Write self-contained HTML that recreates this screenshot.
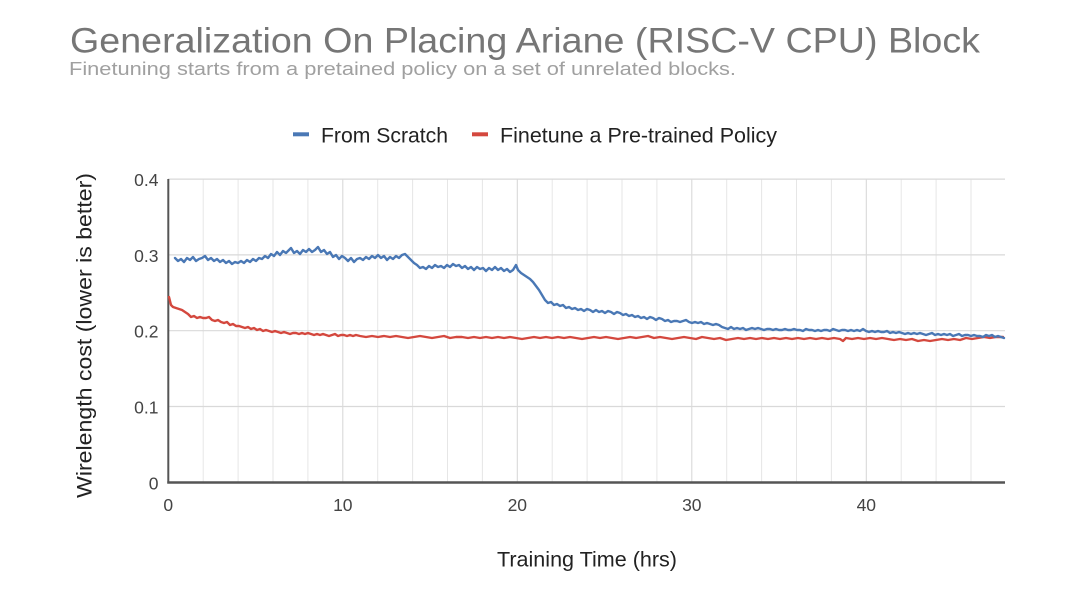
<!DOCTYPE html>
<html>
<head>
<meta charset="utf-8">
<style>
  html,body{margin:0;padding:0;background:#fff;}
  svg{display:block;}
  text{font-family:"Liberation Sans",Arial,sans-serif;}
</style>
</head>
<body>
<svg width="1080" height="604" viewBox="0 0 1080 604" xmlns="http://www.w3.org/2000/svg">
  <rect x="0" y="0" width="1080" height="604" fill="#ffffff"/>

  <!-- Title -->
  <text x="70" y="52.5" font-size="35.5" fill="#767676" textLength="910" lengthAdjust="spacingAndGlyphs">Generalization On Placing Ariane (RISC-V CPU) Block</text>
  <text x="69" y="75" font-size="18.5" fill="#a0a0a0" textLength="667" lengthAdjust="spacingAndGlyphs">Finetuning starts from a pretained policy on a set of unrelated blocks.</text>

  <!-- Legend -->
  <line x1="293" y1="134.3" x2="309" y2="134.3" stroke="#4a78b5" stroke-width="4"/>
  <text x="321" y="142.3" font-size="21" fill="#222" textLength="127" lengthAdjust="spacingAndGlyphs">From Scratch</text>
  <line x1="472" y1="134.3" x2="488" y2="134.3" stroke="#d4483e" stroke-width="4"/>
  <text x="500" y="142.3" font-size="21" fill="#222" textLength="277" lengthAdjust="spacingAndGlyphs">Finetune a Pre-trained Policy</text>

  <!-- Vertical grid (every 2 hrs) -->
  <g stroke="#e6e6e6" stroke-width="1">
    <line x1="203.2" y1="179" x2="203.2" y2="482"/>
    <line x1="238.1" y1="179" x2="238.1" y2="482"/>
    <line x1="273.0" y1="179" x2="273.0" y2="482"/>
    <line x1="307.9" y1="179" x2="307.9" y2="482"/>
    <line x1="377.7" y1="179" x2="377.7" y2="482"/>
    <line x1="412.6" y1="179" x2="412.6" y2="482"/>
    <line x1="447.5" y1="179" x2="447.5" y2="482"/>
    <line x1="482.4" y1="179" x2="482.4" y2="482"/>
    <line x1="552.2" y1="179" x2="552.2" y2="482"/>
    <line x1="587.1" y1="179" x2="587.1" y2="482"/>
    <line x1="622.0" y1="179" x2="622.0" y2="482"/>
    <line x1="656.9" y1="179" x2="656.9" y2="482"/>
    <line x1="726.7" y1="179" x2="726.7" y2="482"/>
    <line x1="761.6" y1="179" x2="761.6" y2="482"/>
    <line x1="796.5" y1="179" x2="796.5" y2="482"/>
    <line x1="831.4" y1="179" x2="831.4" y2="482"/>
    <line x1="901.2" y1="179" x2="901.2" y2="482"/>
    <line x1="936.1" y1="179" x2="936.1" y2="482"/>
    <line x1="971.0" y1="179" x2="971.0" y2="482"/>
  </g>
  <g stroke="#d6d6d6" stroke-width="1">
    <line x1="342.8" y1="179" x2="342.8" y2="482"/>
    <line x1="517.3" y1="179" x2="517.3" y2="482"/>
    <line x1="691.8" y1="179" x2="691.8" y2="482"/>
    <line x1="866.3" y1="179" x2="866.3" y2="482"/>
  </g>

  <!-- Horizontal grid -->
  <g stroke="#d9d9d9" stroke-width="1.2">
    <line x1="168" y1="179.1" x2="1005" y2="179.1"/>
    <line x1="168" y1="254.9" x2="1005" y2="254.9"/>
    <line x1="168" y1="330.7" x2="1005" y2="330.7"/>
    <line x1="168" y1="406.5" x2="1005" y2="406.5"/>
  </g>

  <!-- Axes -->
  <line x1="168.3" y1="179" x2="168.3" y2="483.5" stroke="#555" stroke-width="2"/>
  <line x1="167.3" y1="482.5" x2="1005" y2="482.5" stroke="#555" stroke-width="2.5"/>

  <!-- Y tick labels -->
  <g font-size="17.5" fill="#444" text-anchor="end">
    <text x="158.5" y="186">0.4</text>
    <text x="158.5" y="262">0.3</text>
    <text x="158.5" y="337.5">0.2</text>
    <text x="158.5" y="413.5">0.1</text>
    <text x="158.5" y="489.5">0</text>
  </g>
  <!-- X tick labels -->
  <g font-size="17.5" fill="#444" text-anchor="middle">
    <text x="168.3" y="511">0</text>
    <text x="342.8" y="511">10</text>
    <text x="517.3" y="511">20</text>
    <text x="691.8" y="511">30</text>
    <text x="866.3" y="511">40</text>
  </g>

  <!-- Axis titles -->
  <text x="497" y="566.5" font-size="21" fill="#222" textLength="180" lengthAdjust="spacingAndGlyphs">Training Time (hrs)</text>
  <text transform="translate(91.5,335.5) rotate(-90)" x="0" y="0" font-size="21.5" fill="#222" text-anchor="middle" textLength="325" lengthAdjust="spacingAndGlyphs">Wirelength cost (lower is better)</text>

  <!-- Red series: Finetune -->
  <polyline fill="none" stroke="#d4483e" stroke-width="2.4" stroke-linejoin="round" stroke-linecap="round"
    points="169,297 171,305 173,307 176,308 179,309 182,310 185,312 188,314 191,317 194,316 197,318 200,317 203,318 206,318 209,317 212,320 215,321 218,320 221,322 224,323 227,322 230,325 233,324 236,326 239,326 242,327 245,328 248,327 251,329 254,328 257,330 260,329 263,331 266,330 269,331 272,332 275,331 278,332 281,333 284,332 287,333 290,334 293,333 296,333 299,334 302,333 305,334 308,333 311,334 314,335 317,334 320,335 323,334 326,335 329,336 332,335 335,334 338,336 341,335 344,335 347,336 350,335 353,336 356,335 360,336 366,337 372,336 378,337 384,336 390,337 396,336 402,337 408,338 414,337 420,336 426,337 432,338 438,337 444,336 450,338 456,337 462,337 468,338 474,337 480,338 486,337 492,338 498,337 504,338 510,337 516,338 522,339 528,338 534,337 540,338 546,337 552,338 558,337 564,338 570,337 576,338 582,339 588,338 594,337 600,338 606,337 612,338 618,339 624,338 630,337 636,338 642,337 648,336 654,338 660,337 666,338 672,339 678,338 684,337 690,338 696,339 702,337 708,338 714,339 720,338 726,340 732,339 738,338 744,339 750,338 756,339 762,338 768,339 774,338 780,339 786,338 792,339 798,338 804,339 810,338 816,339 822,338 828,339 834,338 840,339 843,341 846,338 852,339 858,338 864,339 870,338 876,339 882,338 888,339 894,340 900,339 906,340 912,339 918,341 924,340 930,341 936,340 942,339 948,340 954,339 960,340 966,338 972,339 978,338 984,337 990,338 996,337 1003,337"/>

  <!-- Blue series: From Scratch -->
  <polyline fill="none" stroke="#4a78b5" stroke-width="2.4" stroke-linejoin="round" stroke-linecap="round"
    points="175,258 178,261 181,259 184,262 187,258 190,260 193,257 196,261 199,259 202,258 205,256 208,260 211,258 214,261 217,259 220,262 223,260 226,263 229,261 232,264 235,262 238,263 241,261 244,263 247,260 250,262 253,259 256,261 259,258 262,259 265,256 268,258 271,254 274,256 277,252 280,255 283,251 286,253 289,250 291,248 294,253 297,251 300,254 303,250 306,252 309,249 312,252 315,250 318,247 321,252 324,250 327,254 330,252 333,257 336,255 339,259 342,256 345,258 348,261 351,258 354,262 357,259 360,258 363,260 366,257 369,259 372,256 375,258 378,255 381,258 384,256 387,260 390,257 393,259 396,256 399,258 402,255 405,254 408,257 411,260 414,263 417,265 420,268 423,267 426,269 429,266 432,268 435,265 438,267 441,266 444,268 447,265 450,267 453,264 456,266 459,265 462,268 465,266 468,269 471,267 474,270 477,267 480,269 483,268 486,271 489,268 492,270 495,267 498,270 501,268 504,271 507,269 510,272 513,270 516,265 518,270 521,273 524,275 527,277 530,279 533,282 536,286 539,290 542,295 545,300 548,303 551,302 554,305 557,304 560,306 563,305 566,308 569,307 572,309 575,308 578,310 581,309 584,311 587,309 590,310 593,312 596,310 599,312 602,311 605,313 608,311 611,312 614,314 617,312 620,313 623,315 626,314 629,316 632,315 635,317 638,316 641,318 644,317 647,319 650,317 653,318 656,320 659,318 662,319 665,321 668,320 671,322 674,321 677,321 680,322 683,321 686,320 689,322 692,323 695,322 698,323 701,322 704,324 707,323 710,324 713,325 716,324 719,325 722,327 725,328 728,329 731,327 734,329 737,328 740,329 743,328 746,330 749,329 752,328 755,329 758,328 761,329 764,330 767,329 770,329 773,330 776,329 779,330 782,330 785,329 788,330 791,330 794,329 797,330 800,330 803,331 806,329 809,330 812,330 815,331 818,330 821,331 824,330 827,330 830,331 833,329 836,330 839,331 842,330 845,330 848,331 851,330 854,331 857,330 860,331 863,329 866,331 869,332 872,331 875,332 878,331 881,332 884,332 887,331 890,333 893,332 896,333 899,332 902,333 905,334 908,333 911,334 914,333 917,334 920,333 923,334 926,335 929,334 932,333 935,335 938,334 941,335 944,334 947,335 950,334 953,336 956,335 959,334 962,336 965,335 968,335 971,336 974,335 977,336 980,336 983,337 986,335 989,336 992,335 995,337 998,336 1001,337 1004,338"/>
</svg>
</body>
</html>
